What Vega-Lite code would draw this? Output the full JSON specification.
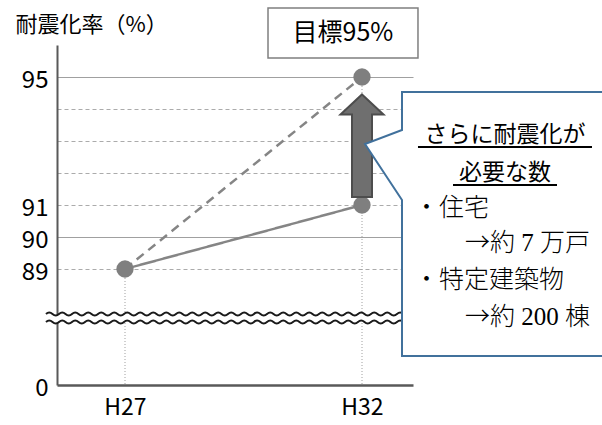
{
  "$schema": "https://vega.github.io/schema/vega-lite/v6.json",
  "width": 356,
  "height": 340,
  "autosize": {"type": "none"},
  "padding": {"left": 57, "top": 45, "right": 189, "bottom": 40},
  "background": "white",
  "config": {"view": {"stroke": null}, "font": "Noto Sans CJK JP"},
  "datasets": {
    "vlines": [{"x": 27, "y": 89}, {"x": 32, "y": 95}],
    "band": [{"x": 29.173, "y": 87.469}],
    "waves": [{"x": 29.173, "y": 87.594}, {"x": 29.173, "y": 87.344}],
    "series": [
      {"x": 27, "y": 89, "s": "実績"}, {"x": 32, "y": 91, "s": "実績"},
      {"x": 27, "y": 89, "s": "目標"}, {"x": 32, "y": 95, "s": "目標"}
    ],
    "points": [{"x": 27, "y": 89}, {"x": 32, "y": 91}, {"x": 32, "y": 95}],
    "arrow": [{"x": 32, "y": 92.891}],
    "callout": [{"x": 32, "y": 93}],
    "heads": [
      {"x": 35.017, "y": 93.1875, "t": "さらに耐震化が"},
      {"x": 35.017, "y": 92.0, "t": "必要な数"}
    ],
    "underlines": [
      {"x": 33.181, "x2": 36.852, "y": 92.8125},
      {"x": 33.92, "x2": 36.114, "y": 91.625}
    ],
    "bullets": [
      {"x": 33.097, "y": 90.906, "t": "・住宅"},
      {"x": 33.097, "y": 88.656, "t": "・特定建築物"}
    ],
    "arrows": [
      {"x": 34.173, "y": 89.813, "t": "→"},
      {"x": 34.173, "y": 87.5, "t": "→"}
    ],
    "counts": [
      {"x": 34.70, "y": 89.813, "t": "約 7 万戸"},
      {"x": 34.70, "y": 87.5, "t": "約 200 棟"}
    ],
    "targetbox": [{"x": 30.017, "x2": 33.181, "y": 97.156, "y2": 95.594}],
    "targettext": [{"x": 31.599, "y": 96.375, "t": "目標95%"}]
  },
  "encoding": {
    "x": {
      "field": "x", "type": "quantitative",
      "scale": {"domain": [25.5654, 33.0759], "nice": false, "zero": false},
      "axis": {
        "values": [27, 32], "labelExpr": "'H' + datum.value", "grid": false, "ticks": false,
        "domainColor": "#595959", "domainWidth": 2.5, "labelFontSize": 23, "labelColor": "#000",
        "labelPadding": 11, "title": null, "labelFont": "Noto Sans CJK JP"
      }
    },
    "y": {
      "field": "y", "type": "quantitative",
      "scale": {"domain": [0, 87.25, 96], "range": [340, 280, 0], "nice": false, "zero": false},
      "axis": {
        "values": [0, 89, 90, 91, 92, 93, 94, 95],
        "labelExpr": "(datum.value == 92 || datum.value == 93 || datum.value == 94) ? '' : datum.label",
        "ticks": false,
        "grid": true,
        "gridColor": {"condition": {"test": "datum.value == 95 || datum.value == 90", "value": "#a0a0a0"}, "value": "#ababab"},
        "gridDash": {"condition": {"test": "datum.value == 95 || datum.value == 90", "value": []}, "value": [4, 3]},
        "gridOpacity": {"condition": {"test": "datum.value == 0", "value": 0}, "value": 1},
        "gridWidth": 1.2,
        "domainColor": "#595959", "domainWidth": 2,
        "labelFontSize": 24, "labelColor": "#000", "labelPadding": 9, "labelOffset": 3, "labelFont": "Noto Sans CJK JP",
        "title": "耐震化率（%）", "titleAngle": 0, "titleX": -42, "titleY": -21,
        "titleAlign": "left", "titleBaseline": "middle", "titleFontSize": 22,
        "titleFontWeight": "normal", "titleColor": "#000", "titleFont": "Noto Sans CJK JP"
      }
    }
  },
  "layer": [
    {
      "data": {"name": "vlines"},
      "mark": {"type": "rule", "color": "#a0a0a0", "strokeDash": [1, 2], "strokeWidth": 1},
      "encoding": {"y2": {"datum": -0.7}}
    },
    {
      "data": {"name": "band"},
      "mark": {
        "type": "point", "filled": false, "opacity": 1, "stroke": "white", "strokeWidth": 6, "size": 132496,
        "shape": "M-1,0 q0.01786,-0.0165 0.03571,0 q0.01786,0.0165 0.03571,0 q0.01786,-0.0165 0.03571,0 q0.01786,0.0165 0.03571,0 q0.01786,-0.0165 0.03571,0 q0.01786,0.0165 0.03571,0 q0.01786,-0.0165 0.03571,0 q0.01786,0.0165 0.03571,0 q0.01786,-0.0165 0.03571,0 q0.01786,0.0165 0.03571,0 q0.01786,-0.0165 0.03571,0 q0.01786,0.0165 0.03571,0 q0.01786,-0.0165 0.03571,0 q0.01786,0.0165 0.03571,0 q0.01786,-0.0165 0.03571,0 q0.01786,0.0165 0.03571,0 q0.01786,-0.0165 0.03571,0 q0.01786,0.0165 0.03571,0 q0.01786,-0.0165 0.03571,0 q0.01786,0.0165 0.03571,0 q0.01786,-0.0165 0.03571,0 q0.01786,0.0165 0.03571,0 q0.01786,-0.0165 0.03571,0 q0.01786,0.0165 0.03571,0 q0.01786,-0.0165 0.03571,0 q0.01786,0.0165 0.03571,0 q0.01786,-0.0165 0.03571,0 q0.01786,0.0165 0.03571,0 q0.01786,-0.0165 0.03571,0 q0.01786,0.0165 0.03571,0 q0.01786,-0.0165 0.03571,0 q0.01786,0.0165 0.03571,0 q0.01786,-0.0165 0.03571,0 q0.01786,0.0165 0.03571,0 q0.01786,-0.0165 0.03571,0 q0.01786,0.0165 0.03571,0 q0.01786,-0.0165 0.03571,0 q0.01786,0.0165 0.03571,0 q0.01786,-0.0165 0.03571,0 q0.01786,0.0165 0.03571,0 q0.01786,-0.0165 0.03571,0 q0.01786,0.0165 0.03571,0 q0.01786,-0.0165 0.03571,0 q0.01786,0.0165 0.03571,0 q0.01786,-0.0165 0.03571,0 q0.01786,0.0165 0.03571,0 q0.01786,-0.0165 0.03571,0 q0.01786,0.0165 0.03571,0 q0.01786,-0.0165 0.03571,0 q0.01786,0.0165 0.03571,0 q0.01786,-0.0165 0.03571,0 q0.01786,0.0165 0.03571,0 q0.01786,-0.0165 0.03571,0 q0.01786,0.0165 0.03571,0 q0.01786,-0.0165 0.03571,0 q0.01786,0.0165 0.03571,0"
      }
    },
    {
      "data": {"name": "waves"},
      "mark": {
        "type": "point", "filled": false, "opacity": 1, "stroke": "#1a1a1a", "strokeWidth": 2, "size": 132496,
        "shape": "M-1,0 q0.01786,-0.0165 0.03571,0 q0.01786,0.0165 0.03571,0 q0.01786,-0.0165 0.03571,0 q0.01786,0.0165 0.03571,0 q0.01786,-0.0165 0.03571,0 q0.01786,0.0165 0.03571,0 q0.01786,-0.0165 0.03571,0 q0.01786,0.0165 0.03571,0 q0.01786,-0.0165 0.03571,0 q0.01786,0.0165 0.03571,0 q0.01786,-0.0165 0.03571,0 q0.01786,0.0165 0.03571,0 q0.01786,-0.0165 0.03571,0 q0.01786,0.0165 0.03571,0 q0.01786,-0.0165 0.03571,0 q0.01786,0.0165 0.03571,0 q0.01786,-0.0165 0.03571,0 q0.01786,0.0165 0.03571,0 q0.01786,-0.0165 0.03571,0 q0.01786,0.0165 0.03571,0 q0.01786,-0.0165 0.03571,0 q0.01786,0.0165 0.03571,0 q0.01786,-0.0165 0.03571,0 q0.01786,0.0165 0.03571,0 q0.01786,-0.0165 0.03571,0 q0.01786,0.0165 0.03571,0 q0.01786,-0.0165 0.03571,0 q0.01786,0.0165 0.03571,0 q0.01786,-0.0165 0.03571,0 q0.01786,0.0165 0.03571,0 q0.01786,-0.0165 0.03571,0 q0.01786,0.0165 0.03571,0 q0.01786,-0.0165 0.03571,0 q0.01786,0.0165 0.03571,0 q0.01786,-0.0165 0.03571,0 q0.01786,0.0165 0.03571,0 q0.01786,-0.0165 0.03571,0 q0.01786,0.0165 0.03571,0 q0.01786,-0.0165 0.03571,0 q0.01786,0.0165 0.03571,0 q0.01786,-0.0165 0.03571,0 q0.01786,0.0165 0.03571,0 q0.01786,-0.0165 0.03571,0 q0.01786,0.0165 0.03571,0 q0.01786,-0.0165 0.03571,0 q0.01786,0.0165 0.03571,0 q0.01786,-0.0165 0.03571,0 q0.01786,0.0165 0.03571,0 q0.01786,-0.0165 0.03571,0 q0.01786,0.0165 0.03571,0 q0.01786,-0.0165 0.03571,0 q0.01786,0.0165 0.03571,0 q0.01786,-0.0165 0.03571,0 q0.01786,0.0165 0.03571,0 q0.01786,-0.0165 0.03571,0 q0.01786,0.0165 0.03571,0"
      }
    },
    {
      "data": {"name": "series"},
      "mark": {"type": "line", "color": "#858585", "strokeWidth": 2.5},
      "encoding": {
        "detail": {"field": "s", "type": "nominal"},
        "strokeDash": {
          "field": "s", "type": "nominal",
          "scale": {"domain": ["実績", "目標"], "range": [[1, 0], [9, 6]]},
          "legend": null
        }
      }
    },
    {
      "data": {"name": "points"},
      "mark": {"type": "circle", "color": "#7f7f7f", "opacity": 1, "size": 300}
    },
    {
      "data": {"name": "arrow"},
      "mark": {
        "type": "point", "filled": true, "opacity": 1, "fill": "#6f6f6f", "stroke": "#4d4d4d", "strokeWidth": 2,
        "size": 10000,
        "shape": "M0,-1.0 L0.43,-0.6 L0.2,-0.6 L0.2,1.05 L-0.2,1.05 L-0.2,-0.6 L-0.43,-0.6 Z"
      }
    },
    {
      "data": {"name": "callout"},
      "mark": {
        "type": "point", "filled": true, "opacity": 1, "fill": "white", "stroke": "#41719c", "strokeWidth": 2,
        "size": 40000,
        "shape": "M0.40,-0.11 L0.40,-0.49 L2.6,-0.49 L2.6,2.15 L0.40,2.15 L0.40,0.59 L0.03,0.03 Z"
      }
    },
    {
      "data": {"name": "heads"},
      "mark": {"type": "text", "align": "center", "baseline": "middle", "fontSize": 23, "font": "Noto Sans CJK JP", "color": "#000"},
      "encoding": {"text": {"field": "t"}}
    },
    {
      "data": {"name": "underlines"},
      "mark": {"type": "rule", "color": "#000", "strokeWidth": 2},
      "encoding": {"x2": {"field": "x2"}}
    },
    {
      "data": {"name": "bullets"},
      "mark": {"type": "text", "align": "left", "baseline": "middle", "fontSize": 25, "font": "Noto Sans CJK JP", "fontWeight": 300, "color": "#000"},
      "encoding": {"text": {"field": "t"}}
    },
    {
      "data": {"name": "arrows"},
      "mark": {"type": "text", "align": "left", "baseline": "middle", "fontSize": 25, "font": "Noto Sans CJK JP", "fontWeight": 300, "color": "#000"},
      "encoding": {"text": {"field": "t"}}
    },
    {
      "data": {"name": "counts"},
      "mark": {"type": "text", "align": "left", "baseline": "middle", "fontSize": 25, "font": "Liberation Serif, Noto Sans CJK JP", "fontWeight": 300, "color": "#000"},
      "encoding": {"text": {"field": "t"}}
    },
    {
      "data": {"name": "targetbox"},
      "mark": {"type": "rect", "fill": "white", "stroke": "#7f7f7f", "strokeWidth": 1.5},
      "encoding": {"x2": {"field": "x2"}, "y2": {"field": "y2"}}
    },
    {
      "data": {"name": "targettext"},
      "mark": {"type": "text", "align": "center", "baseline": "middle", "fontSize": 25, "font": "Noto Sans CJK JP", "color": "#000"},
      "encoding": {"text": {"field": "t"}}
    }
  ]
}
